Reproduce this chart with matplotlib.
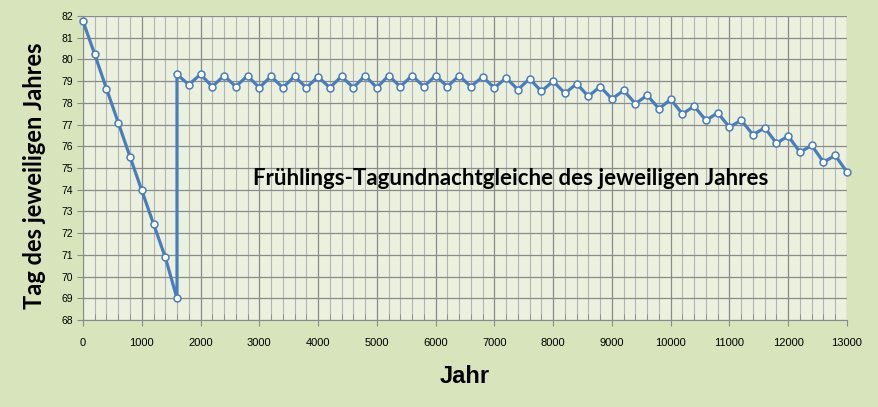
import numpy as np
import matplotlib.pyplot as plt
from matplotlib.ticker import MultipleLocator
from matplotlib import font_manager

# Jahr und Tag des jeweiligen Jahres
jahre = [0, 200, 400, 600, 800, 1000, 1200, 1400, 1600,
         1600, 1800, 2000, 2200, 2400, 2600, 2800, 3000, 3200, 3400, 3600, 3800,
         4000, 4200, 4400, 4600, 4800, 5000, 5200, 5400, 5600, 5800, 6000, 6200,
         6400, 6600, 6800, 7000, 7200, 7400, 7600, 7800, 8000, 8200, 8400, 8600,
         8800, 9000, 9200, 9400, 9600, 9800, 10000, 10200, 10400, 10600, 10800,
         11000, 11200, 11400, 11600, 11800, 12000, 12200, 12400, 12600, 12800, 13000]
tage = [81.77, 80.23, 78.65, 77.09, 75.52, 73.97, 72.43, 70.89, 68.99,
        79.31, 78.84, 79.31, 78.75, 79.25, 78.75, 79.25, 78.70, 79.22, 78.70, 79.22, 78.70,
        79.20, 78.70, 79.22, 78.70, 79.25, 78.70, 79.25, 78.75, 79.25, 78.75, 79.25, 78.75,
        79.25, 78.75, 79.20, 78.69, 79.15, 78.61, 79.11, 78.53, 79.00, 78.44, 78.88, 78.30,
        78.75, 78.18, 78.57, 77.96, 78.35, 77.73, 78.16, 77.49, 77.85, 77.19, 77.54,
        76.88, 77.20, 76.53, 76.85, 76.14, 76.47, 75.73, 76.04, 75.27, 75.58, 74.81]

names = {f.name for f in font_manager.fontManager.ttflist}
narrow = 'Liberation Sans Narrow' if 'Liberation Sans Narrow' in names else 'Liberation Sans'

fig = plt.figure(figsize=(8.79, 4.07), dpi=100, facecolor='#D8E4BC')
ax = fig.add_axes([0.0944, 0.2138, 0.8692, 0.7469])
ax.set_facecolor('#EBF1DE')

ax.plot(jahre, tage, color='#4A7EBB', lw=2.3, marker='o', ms=5, mfc='white',
        mec='#4A7EBB', mew=1.1, zorder=3, clip_on=False)

ax.set_xlim(0, 13000)
ax.set_ylim(68, 82)
ax.xaxis.set_major_locator(MultipleLocator(1000))
ax.xaxis.set_minor_locator(MultipleLocator(200))
ax.yaxis.set_major_locator(MultipleLocator(1))
ax.grid(which='major', color='#8A8A8A', lw=0.9)
ax.grid(which='minor', axis='x', color='#B4B4B4', lw=0.8)
ax.set_axisbelow(True)

for s in ['top', 'right']:
    ax.spines[s].set_visible(False)
for s in ['left', 'bottom']:
    ax.spines[s].set_color('#8A8A8A')

ax.tick_params(axis='x', which='major', direction='out', length=4, color='#8A8A8A', pad=9)
ax.tick_params(axis='x', which='minor', direction='in', length=4, color='#8A8A8A')
ax.tick_params(axis='y', direction='out', length=4, color='#8A8A8A', pad=3)
for lab in ax.get_xticklabels():
    lab.set_fontfamily(narrow)
    lab.set_fontsize(8)
for lab in ax.get_yticklabels():
    lab.set_fontfamily('Liberation Sans')
    lab.set_fontsize(7.5)

ax.set_xlabel('Jahr', fontsize=17, fontweight='bold', family=narrow, labelpad=12)
ax.set_ylabel('Tag des jeweiligen Jahres', fontsize=17, fontweight='bold', family='Lato')
ax.yaxis.set_label_coords(-0.048, 0.475)

ax.text(7280, 74.5, 'Frühlings-Tagundnachtgleiche des jeweiligen Jahres',
        ha='center', va='center', fontsize=16, fontweight='bold', family='Lato')

fig.savefig('out.png', dpi=100, facecolor=fig.get_facecolor())
